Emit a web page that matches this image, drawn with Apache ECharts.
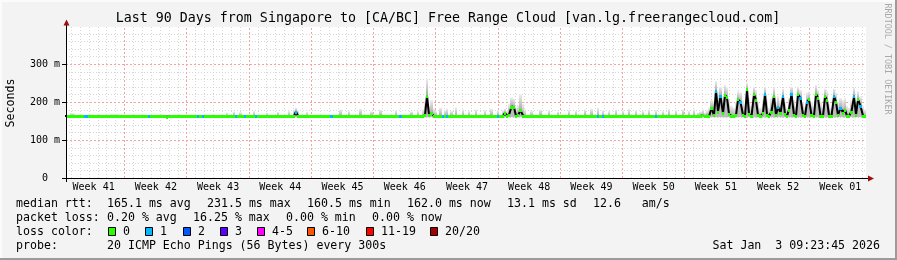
<!DOCTYPE html>
<html><head><meta charset="utf-8">
<script src="https://cdn.jsdelivr.net/npm/echarts@6/dist/echarts.min.js"></script>
<style>html,body{margin:0;padding:0;background:#f3f3f3}#c{width:897px;height:260px}</style>
</head><body><div id="c"></div>
<script>
// ---------------- data ----------------
const titleText = 'Last 90 Days from Singapore to [CA/BC] Free Range Cloud [van.lg.freerangecloud.com]';
const yAxisName = 'Seconds';
const yTickValues = [0, 100, 200, 300];
const weekLabels = ['Week 41','Week 42','Week 43','Week 44','Week 45','Week 46','Week 47','Week 48','Week 49','Week 50','Week 51','Week 52','Week 01'];
const spanDays = 90;            // last 90 days
const stepDays = 0.25;          // one sample = 6 hours
const endPastMidnightDays = 0.3915;  // end time 09:23:45
const endPastSundayDays = 6.3915;    // end time after Sunday 00:00
// median RTT per sample (ms)
const medianMs = [
163,163,163,163,163,163,163,163,163,163,163,163,163,163,163,163,163,163,163,163,
163,163,163,163,163,163,163,163,163,163,163,163,163,163,163,163,163,163,163,163,
163,163,163,163,163,161,163,163,163,163,163,163,163,163,163,163,163,163,163,163,
163,163,163,163,163,163,163,163,163,163,163,163,163,163,163,163,163,163,163,163,
163,163,163,163,163,163,163,163,163,163,163,163,163,163,163,163,163,163,163,163,
163,163,163,175,163,163,163,163,163,163,163,163,163,163,163,163,163,163,163,163,
163,163,163,163,163,163,163,163,163,163,163,163,163,163,163,163,163,163,163,163,
163,163,163,163,163,163,163,163,163,163,163,163,163,163,163,163,163,163,163,163,
163,165,217,166,170,163,163,163,163,163,163,163,163,163,163,163,163,163,163,163,
163,163,163,163,163,163,163,163,163,163,163,163,163,163,163,163,163,172,163,166,
188,186,163,165,178,164,163,163,163,163,163,163,163,163,163,163,163,163,163,163,
163,163,163,163,163,163,163,163,163,163,163,163,163,163,163,163,163,163,163,163,
163,163,163,163,163,163,163,163,163,163,163,163,163,163,163,163,163,163,163,163,
163,163,163,163,163,163,163,163,163,163,163,163,163,163,163,163,163,163,163,163,
163,163,163,163,163,163,165,162,164,162,184,165,230,175,215,170,218,212,168,163,
162,165,207,200,165,163,233,168,163,220,205,165,163,170,222,166,163,175,217,165,
188,170,215,168,163,180,220,166,163,220,210,166,163,200,207,165,163,222,210,164,
163,215,205,164,163,215,200,165,185,172,180,163,163,175,215,166,207,190,163,162
];
// highest ping per sample (ms) - top of the smoke
const smokeMaxMs = [
166,166,171,170,166,166,166,166,166,166,166,166,166,166,166,166,166,166,166,166,
168,168,168,168,166,166,166,166,166,166,166,166,166,166,166,166,166,166,166,166,
166,166,166,166,166,166,166,166,166,166,166,166,166,166,166,166,166,166,166,166,
166,166,166,166,166,166,166,166,166,166,166,166,172,166,166,175,166,166,173,166,
166,166,166,166,176,166,166,166,166,166,172,166,166,166,166,174,166,166,166,166,
176,166,180,185,178,166,166,166,174,166,166,166,166,166,166,166,166,166,166,166,
166,166,166,180,166,166,166,176,166,166,166,166,182,166,166,166,166,175,166,166,
166,180,166,166,166,166,166,166,178,166,166,166,166,166,166,175,166,166,176,166,
180,200,262,190,205,182,176,166,185,166,178,183,166,176,166,186,166,166,180,166,
166,176,166,166,180,166,166,166,178,166,166,182,166,166,178,166,178,182,176,195,
212,208,185,192,220,195,180,166,166,176,166,166,166,180,166,166,166,178,166,166,
166,175,166,166,166,166,178,166,166,176,166,166,166,180,166,166,182,166,166,185,
166,178,166,166,176,166,166,180,166,166,177,166,166,182,166,166,178,166,166,176,
166,166,180,166,166,178,166,166,176,166,166,182,166,166,178,166,166,180,166,166,
176,166,180,166,172,175,180,172,178,185,205,200,255,225,240,215,245,238,205,190,
185,200,228,225,205,190,250,210,190,240,232,200,185,205,240,205,185,210,238,200,
215,205,235,200,185,210,240,205,188,240,232,200,188,225,228,200,188,245,232,200,
185,235,228,195,185,235,225,200,210,205,210,190,185,205,238,200,228,215,190,180
];
const smokeMinMs = 160;
// lost pings (of 20) per sample
const lossCount = [
0,0,0,0,0,0,0,0,1,1,0,0,0,0,0,0,0,0,0,0,
0,0,0,0,0,0,0,0,0,0,0,0,0,0,0,0,0,1,0,0,
0,0,0,0,0,0,0,0,0,0,0,0,0,0,0,0,0,0,0,1,
0,1,0,0,0,0,0,0,0,0,0,0,0,0,0,0,1,0,0,0,
1,0,0,0,0,1,0,0,0,0,0,0,0,0,0,0,0,0,0,0,
0,0,0,1,0,0,0,0,0,0,0,0,0,0,0,0,0,0,0,1,
0,0,0,0,0,0,0,0,0,0,0,0,0,0,0,0,0,0,0,0,
0,0,0,0,0,0,0,0,0,0,1,0,0,0,0,0,0,0,0,0,
0,0,0,0,0,0,0,0,0,1,0,1,0,0,0,0,0,0,0,0,
0,0,0,0,0,0,0,0,0,0,0,0,0,0,1,0,0,0,0,0,
0,0,0,0,0,0,0,0,0,0,0,0,0,0,0,0,0,0,0,0,
0,0,0,0,0,0,0,0,0,0,0,0,0,0,0,0,0,0,0,1,
0,1,0,0,0,0,0,0,0,0,0,0,0,0,0,0,0,0,0,0,
0,0,0,0,0,1,0,0,0,0,0,0,0,0,0,0,0,0,0,0,
0,0,0,0,0,0,0,0,0,0,0,0,1,0,1,0,0,0,0,0,
0,0,0,1,0,0,0,0,0,0,0,0,0,0,1,0,0,0,0,0,
1,0,1,0,0,0,1,0,0,0,1,0,0,1,0,0,0,0,0,0,
0,0,0,0,0,1,0,0,1,0,0,0,0,0,1,0,0,1,0,0
];
const lossLabels = ['0','1','2','3','4-5','6-10','11-19','20/20'];
const lossColors = ['#26ff00','#00b8ff','#0059ff','#5e00ff','#ff00ff','#ff5500','#ff0000','#a10000'];
const rttStats = ['165.1 ms avg','231.5 ms max','160.5 ms min','162.0 ms now','13.1 ms sd','12.6   am/s'];
const lossStats = ['0.20 % avg','16.25 % max','0.00 % min','0.00 % now'];
const probeText = '20 ICMP Echo Pings (56 Bytes) every 300s';
const dateText = 'Sat Jan  3 09:23:45 2026';
const watermark = 'RRDTOOL / TOBI OETIKER';

// ---------------- layout / style ----------------
const MONO = '"DejaVu Sans Mono"';
const PLOT = {left: 66, top: 27, width: 800, height: 151};
const yMax = PLOT.height / 38 * 100;
const ROWS = [204, 218, 232, 246];

function lossIdx(l) {
  if (l <= 0) return 0; if (l === 1) return 1; if (l === 2) return 2; if (l === 3) return 3;
  if (l <= 5) return 4; if (l <= 10) return 5; if (l <= 19) return 6; return 7;
}

const samples = medianMs.map((m, i) => [i * stepDays, m, smokeMaxMs[i], smokeMinMs, lossCount[i], i > 0 ? medianMs[i - 1] : m]);

// grid lines
const gridData = [];
for (let v = 20; v < yMax; v += 20) if (v % 100 !== 0) gridData.push([0, v]);
const weekBounds = [];
for (let t = spanDays - endPastSundayDays + 7; t > -7; t -= 7) weekBounds.unshift(t);
const weekLines = weekBounds.filter(t => t > 0 && t < spanDays);
for (let t = spanDays - endPastMidnightDays; t > 0; t -= 1) {
  if (!weekLines.some(w => Math.abs(w - t) < 0.01)) gridData.push([2, t]);
}
yTickValues.forEach(v => { if (v > 0) gridData.push([1, v]); });
weekLines.forEach(t => gridData.push([3, t]));
yTickValues.forEach(v => gridData.push([4, v]));
const weekMids = [];
for (let k = 0; k + 1 < weekBounds.length; k++) weekMids.push([(weekBounds[k] + weekBounds[k + 1]) / 2, k]);

const chart = echarts.init(document.getElementById('c'), null, {renderer: 'canvas', width: 897, height: 260});

const MINOR = {stroke: '#d6d6d6', lineWidth: 1, lineDash: [1, 2]};
const MAJOR = {stroke: '#f2a4a4', lineWidth: 1, lineDash: [2, 2]};

function gridItem(params, api) {
  const kind = api.value(0), v = api.value(1);
  if (kind === 0 || kind === 1) {
    const a = api.coord([0, v]), b = api.coord([spanDays, v]);
    const y = Math.round(a[1]) + 0.5;
    return {type: 'line', shape: {x1: a[0], y1: y, x2: b[0], y2: y}, style: kind === 0 ? MINOR : MAJOR};
  }
  if (kind === 2 || kind === 3) {
    const a = api.coord([v, 0]), b = api.coord([v, yMax]);
    const x = Math.floor(a[0]) + 0.5;
    return {type: 'line', shape: {x1: x, y1: a[1], x2: x, y2: b[1]}, style: kind === 2 ? MINOR : MAJOR};
  }
  const a = api.coord([0, v]);
  const y = Math.round(a[1]) + 0.5;
  return {type: 'line', shape: {x1: a[0] - 4, y1: y, x2: a[0], y2: y}, style: {stroke: '#000', lineWidth: 1}};
}

function xr(api, t) { return Math.round(api.coord([t, 0])[0]); }

function smokeItem(params, api) {
  const t = api.value(0), med = api.value(1), hi = api.value(2), lo = api.value(3);
  const x0 = xr(api, t), x1 = xr(api, t + stepDays);
  const yHi = api.coord([t, hi])[1], yMed = api.coord([t, med])[1], yLo = api.coord([t, lo])[1];
  const ch = [];
  if (yMed - yHi > 0.5) ch.push({type: 'rect', shape: {x: x0, y: yHi, width: x1 - x0, height: yMed - yHi},
    style: {fill: new echarts.graphic.LinearGradient(0, 0, 0, 1, [{offset: 0, color: '#eeeeee'}, {offset: 1, color: '#aaaaaa'}])}});
  if (yLo - yMed > 0.5) ch.push({type: 'rect', shape: {x: x0, y: yMed, width: x1 - x0, height: yLo - yMed}, style: {fill: '#bcbcbc'}});
  return {type: 'group', children: ch};
}

function lineItem(params, api) {
  const t = api.value(0), med = api.value(1), prev = api.value(5);
  const xc = (xr(api, t) + xr(api, t + stepDays)) / 2;
  const xp = (xr(api, t - stepDays) + xr(api, t)) / 2;
  const y = api.coord([t, med])[1], yp = api.coord([t, prev])[1];
  return {type: 'polyline', shape: {points: [[xp, yp], [xc, y]]}, style: {stroke: '#000', lineWidth: 2, fill: null}};
}

function bandItem(params, api) {
  const t = api.value(0), med = api.value(1), loss = api.value(4);
  const x0 = xr(api, t), x1 = xr(api, t + stepDays);
  const yc = Math.round(api.coord([t, med])[1]);
  return {type: 'rect', shape: {x: x0, y: yc - 1, width: x1 - x0, height: 3}, style: {fill: lossColors[lossIdx(loss)]}};
}

function weekLabelItem(params, api) {
  const t = api.value(0), k = api.value(1);
  const p = api.coord([t, 0]);
  return {type: 'text', x: p[0], y: p[1] + 9.5,
    style: {text: weekLabels[k], font: '10px ' + MONO, fill: '#000', align: 'center', verticalAlign: 'middle', textAlign: 'center', textVerticalAlign: 'middle'}};
}

function txt(x, y, s, opts) {
  return Object.assign({type: 'text', x: x, y: y, silent: true,
    style: Object.assign({text: s, font: '11.6px ' + MONO, fill: '#000', textAlign: 'left', textVerticalAlign: 'middle', align: 'left', verticalAlign: 'middle'}, (opts && opts.style) || {})},
    (opts && opts.el) || {});
}

const graphics = [];
// frame
graphics.push({type: 'rect', shape: {x: 0, y: 0, width: 897, height: 2}, style: {fill: '#fbfbfb'}, silent: true});
graphics.push({type: 'rect', shape: {x: 0, y: 0, width: 2, height: 260}, style: {fill: '#fbfbfb'}, silent: true});
graphics.push({type: 'rect', shape: {x: 0, y: 258, width: 897, height: 2}, style: {fill: '#9b9b9b'}, silent: true});
graphics.push({type: 'rect', shape: {x: 895, y: 0, width: 2, height: 260}, style: {fill: '#9b9b9b'}, silent: true});
// axes
graphics.push({type: 'line', shape: {x1: 66.5, y1: 182, x2: 66.5, y2: 24}, style: {stroke: '#000', lineWidth: 1}, z: 20, silent: true});
graphics.push({type: 'line', shape: {x1: 62, y1: 178.5, x2: 869, y2: 178.5}, style: {stroke: '#000', lineWidth: 1}, z: 20, silent: true});
graphics.push({type: 'polygon', shape: {points: [[63.5, 25.5], [69.5, 25.5], [66.5, 19.5]]}, style: {fill: '#9a1010'}, z: 20, silent: true});
graphics.push({type: 'polygon', shape: {points: [[868, 175.5], [868, 181.5], [874, 178.5]]}, style: {fill: '#9a1010'}, z: 20, silent: true});
// title, axis name, watermark
graphics.push(txt(448, 19, titleText, {style: {font: '13.3px ' + MONO, textAlign: 'center', align: 'center'}}));
graphics.push(txt(10.5, 103, yAxisName, {style: {textAlign: 'center', align: 'center'}, el: {rotation: Math.PI / 2}}));
graphics.push(txt(887.5, 59, watermark, {style: {font: '8.4px ' + MONO, fill: '#a8a8a8', textAlign: 'center', align: 'center'}, el: {rotation: -Math.PI / 2}}));
// legend
graphics.push(txt(16, ROWS[0], 'median rtt:'));
[107, 207, 307, 407, 507, 593].forEach((x, k) => graphics.push(txt(x, ROWS[0], rttStats[k])));
graphics.push(txt(16, ROWS[1], 'packet loss:'));
[107, 193, 286, 372].forEach((x, k) => graphics.push(txt(x, ROWS[1], lossStats[k])));
graphics.push(txt(16, ROWS[2], 'loss color:'));
[108, 145, 183, 220, 257, 307, 366, 430].forEach((x, k) => {
  graphics.push({type: 'rect', shape: {x: x + 0.5, y: ROWS[2] - 4.5, width: 7, height: 8}, style: {fill: lossColors[k], stroke: '#000', lineWidth: 1}, silent: true});
  graphics.push(txt(x + 15, ROWS[2], lossLabels[k]));
});
graphics.push(txt(16, ROWS[3], 'probe:'));
graphics.push(txt(107, ROWS[3], probeText));
graphics.push(txt(880, ROWS[3], dateText, {style: {textAlign: 'right', align: 'right'}}));

chart.setOption({
  animation: false,
  backgroundColor: '#f3f3f3',
  grid: {left: PLOT.left, top: PLOT.top, width: PLOT.width, height: PLOT.height, show: true, backgroundColor: '#ffffff', borderWidth: 0},
  xAxis: {type: 'value', min: 0, max: spanDays, show: false},
  yAxis: {type: 'value', min: 0, max: yMax, interval: 100,
    axisLine: {show: false}, axisTick: {show: false}, splitLine: {show: false},
    axisLabel: {showMaxLabel: false, margin: 6, color: '#000', fontFamily: 'DejaVu Sans Mono', fontSize: 10,
      formatter: v => (v === 0 ? '0  ' : v + ' m')}},
  graphic: graphics,
  series: [
    {type: 'custom', silent: true, z: 1, data: gridData, renderItem: gridItem, encode: {x: 1, y: 1}},
    {type: 'custom', silent: true, z: 2, data: samples, renderItem: smokeItem, encode: {x: 0, y: 1}},
    {type: 'custom', silent: true, z: 3, data: samples, renderItem: lineItem, encode: {x: 0, y: 1}},
    {type: 'custom', silent: true, z: 4, data: samples, renderItem: bandItem, encode: {x: 0, y: 1}},
    {type: 'custom', silent: true, z: 5, data: weekMids, renderItem: weekLabelItem, encode: {x: 0, y: 1}}
  ]
});
</script></body></html>
